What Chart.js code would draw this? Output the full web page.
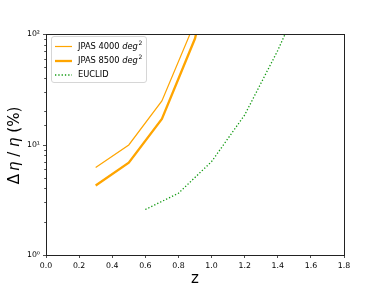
<!DOCTYPE html>
<html>
<head>
<meta charset="utf-8">
<script src="https://cdn.jsdelivr.net/npm/chart.js@4/dist/chart.umd.min.js"></script>
<style>
html,body{margin:0;padding:0;background:#fff;}
#wrap{width:382px;height:287px;position:relative;}
</style>
</head>
<body>
<div id="wrap"><canvas id="c" width="382" height="287"></canvas></div>
<script>
// ---- data ----
const z4000 = [0.3, 0.5, 0.7, 0.9];
const eta4000 = [6.2, 9.9, 24.8, 128];
const z8500 = [0.3, 0.5, 0.7, 0.9, 1.0];
const eta8500 = [4.25, 6.85, 17.0, 91, 400];
const zEuclid = [0.6, 0.8, 1.0, 1.2, 1.4, 1.6];
const etaEuclid = [2.58, 3.62, 7.0, 18.5, 71, 330];
const seriesNames = ['JPAS 4000 ', 'JPAS 8500 ', 'EUCLID'];
const xTickValues = [0.0, 0.2, 0.4, 0.6, 0.8, 1.0, 1.2, 1.4, 1.6, 1.8];
const yTickValues = [1, 10, 100];
const yTickLabels = ['10\u2070', '10\u00B9', '10\u00B2'];

const FONT = "'DejaVu Sans', sans-serif";
const toPts = (xs, ys) => xs.map((x, i) => ({x: x, y: ys[i]}));

const framePlugin = {
  id: 'frame',
  afterDraw(chart) {
    const ctx = chart.ctx, ca = chart.chartArea;
    const ys = chart.scales.y;
    ctx.save();
    // y ticks (major + minor)
    ctx.strokeStyle = '#222';
    ctx.lineWidth = 0.8;
    ys.ticks.forEach(t => {
      const p = Math.round(ys.getPixelForValue(t.value)) + 0.5;
      const major = yTickValues.includes(t.value);
      const len = major ? 3 : 1.8;
      ctx.beginPath();
      ctx.moveTo(ca.left - len, p);
      ctx.lineTo(ca.left, p);
      ctx.stroke();
    });
    // frame
    ctx.strokeStyle = '#222';
    ctx.lineWidth = 1;
    ctx.strokeRect(ca.left + 0.5, ca.top + 0.5, ca.right - ca.left, ca.bottom - ca.top);

    // y label with mixed fonts
    const segs = [
      {t: '\u0394', it: false}, {t: '\u2009', it: false}, {t: '\u03B7', it: true},
      {t: ' / ', it: false}, {t: '\u03B7', it: true}, {t: ' (%)', it: false}
    ];
    const fs = 15;
    let w = 0;
    segs.forEach(s => { ctx.font = (s.it ? 'italic ' : '') + fs + 'px ' + FONT; s.w = ctx.measureText(s.t).width; w += s.w; });
    ctx.translate(15, (ca.top + ca.bottom) / 2 + 1);
    ctx.rotate(-Math.PI / 2);
    ctx.fillStyle = '#000';
    ctx.textBaseline = 'middle';
    ctx.textAlign = 'left';
    let x = -w / 2;
    segs.forEach(s => { ctx.font = (s.it ? 'italic ' : '') + fs + 'px ' + FONT; ctx.fillText(s.t, x, 0); x += s.w; });
    ctx.restore();

    // legend box inside the plot
    ctx.save();
    const x0 = ca.left + 5.5, y0 = ca.top + 2.5, bw = 95, bh = 46, r = 2.5;
    ctx.beginPath();
    ctx.moveTo(x0 + r, y0);
    ctx.lineTo(x0 + bw - r, y0); ctx.quadraticCurveTo(x0 + bw, y0, x0 + bw, y0 + r);
    ctx.lineTo(x0 + bw, y0 + bh - r); ctx.quadraticCurveTo(x0 + bw, y0 + bh, x0 + bw - r, y0 + bh);
    ctx.lineTo(x0 + r, y0 + bh); ctx.quadraticCurveTo(x0, y0 + bh, x0, y0 + bh - r);
    ctx.lineTo(x0, y0 + r); ctx.quadraticCurveTo(x0, y0, x0 + r, y0);
    ctx.closePath();
    ctx.fillStyle = 'rgba(255,255,255,0.85)';
    ctx.fill();
    ctx.strokeStyle = '#d6d6d6';
    ctx.lineWidth = 1;
    ctx.stroke();
    const rows = [y0 + 10, y0 + 24.5, y0 + 38.5];
    chart.data.datasets.forEach((ds, i) => {
      const yy = rows[i];
      ctx.beginPath();
      ctx.strokeStyle = ds.borderColor;
      ctx.lineWidth = ds.borderWidth;
      ctx.setLineDash(ds.borderDash || []);
      ctx.moveTo(x0 + 3.5, yy);
      ctx.lineTo(x0 + 20.5, yy);
      ctx.stroke();
      ctx.setLineDash([]);
      ctx.fillStyle = '#000';
      ctx.textBaseline = 'middle';
      ctx.textAlign = 'left';
      let tx = x0 + 26.5;
      ctx.font = '8.3px ' + FONT;
      ctx.fillText(seriesNames[i], tx, yy);
      tx += ctx.measureText(seriesNames[i]).width;
      if (i < 2) {
        ctx.font = 'italic 8.3px ' + FONT;
        ctx.fillText('deg', tx, yy);
        tx += ctx.measureText('deg').width;
        ctx.font = '6px ' + FONT;
        ctx.fillText('2', tx + 0.5, yy - 3.5);
      }
    });
    ctx.restore();
  }
};

new Chart(document.getElementById('c'), {
  type: 'line',
  data: {
    datasets: [
      {label: 'JPAS 4000 deg2', data: toPts(z4000, eta4000), borderColor: '#FFA500', borderWidth: 1.2, pointRadius: 0, fill: false, tension: 0},
      {label: 'JPAS 8500 deg2', data: toPts(z8500, eta8500), borderColor: '#FFA500', borderWidth: 2.3, pointRadius: 0, fill: false, tension: 0},
      {label: 'EUCLID', data: toPts(zEuclid, etaEuclid), borderColor: '#119911', borderWidth: 1.3, borderDash: [1.3, 2.0], pointRadius: 0, fill: false, tension: 0}
    ]
  },
  options: {
    responsive: false,
    animation: false,
    devicePixelRatio: 1,
    layout: {padding: {top: 34, right: 38, bottom: 0, left: 0}},
    plugins: {legend: {display: false}, tooltip: {enabled: false}},
    scales: {
      x: {
        type: 'linear', min: 0, max: 1.8,
        afterBuildTicks: s => { s.ticks = xTickValues.map(v => ({value: v})); },
        afterFit: s => { s.height = 32; },
        ticks: {callback: v => Number(v).toFixed(1), color: '#000', font: {family: FONT, size: 7.8}, padding: 3, maxRotation: 0, autoSkip: false},
        grid: {display: true, drawOnChartArea: false, tickLength: 3, tickColor: '#222', tickWidth: 0.8},
        border: {display: false},
        title: {display: true, text: 'z', color: '#000', font: {family: FONT, size: 15}, padding: {top: 0, bottom: -1}}
      },
      y: {
        type: 'logarithmic', min: 1, max: 100,
        afterFit: s => { s.width = 46; },
        ticks: {
          autoSkip: false, color: '#000', font: {family: FONT, size: 7.8}, padding: 3,
          callback: v => { const i = yTickValues.indexOf(v); return i >= 0 ? yTickLabels[i] : ''; }
        },
        grid: {display: true, drawOnChartArea: false, tickLength: 3, tickColor: 'rgba(0,0,0,0)'},
        border: {display: false},
        title: {display: false}
      }
    }
  },
  plugins: [framePlugin]
});
</script>
</body>
</html>
